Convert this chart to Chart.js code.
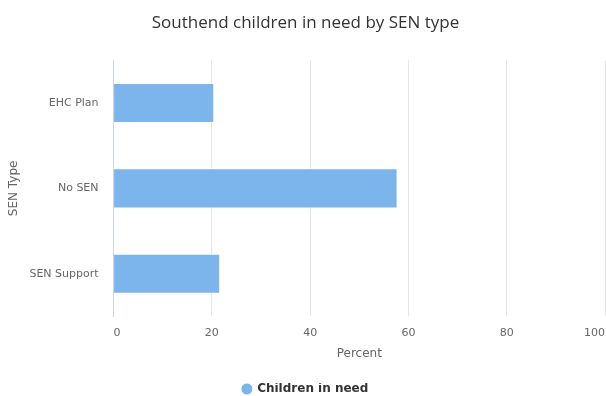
<!DOCTYPE html>
<html>
<head>
<meta charset="utf-8">
<script src="https://cdn.jsdelivr.net/npm/chart.js@4/dist/chart.umd.min.js"></script>
<style>
  html, body { margin: 0; padding: 0; background: #fff; }
  #wrap { width: 606px; height: 396px; }
</style>
</head>
<body>
<div id="wrap"><canvas id="senChart"></canvas></div>
<script>
var senTypes = ['EHC Plan', 'No SEN', 'SEN Support'];
var childrenInNeed = [20.5, 57.8, 21.7];
var percentTicks = [0, 20, 40, 60, 80, 100];

var barBlue = '#7cb5ec';

Chart.defaults.font.family = '"DejaVu Sans", Verdana, sans-serif';

var cfg = {
    type: 'bar',
    data: {
        labels: senTypes,
        datasets: [{
            label: 'Children in need',
            data: childrenInNeed,
            backgroundColor: barBlue,
            borderColor: '#ffffff',
            borderWidth: 1,
            categoryPercentage: 1,
            barPercentage: 0.47
        }]
    },
    options: {
        indexAxis: 'y',
        responsive: true,
        maintainAspectRatio: false,
        animation: false,
        layout: {
            padding: { left: 6, right: 1, top: 0, bottom: -9 }
        },
        plugins: {
            title: {
                display: true,
                text: 'Southend children in need by SEN type',
                color: '#333333',
                font: { family: '"Open Sans", sans-serif', size: 17, weight: 'normal' },
                padding: { top: 13, bottom: 27 }
            },
            legend: {
                position: 'bottom',
                labels: {
                    usePointStyle: true,
                    pointStyle: 'circle',
                    // circle radius is boxHeight * sqrt(2) / 2, so ~12px across
                    boxWidth: 8.5,
                    boxHeight: 8.5,
                    color: '#333333',
                    font: { size: 12, weight: 'bold' },
                    padding: 0
                }
            },
            tooltip: { enabled: false }
        },
        scales: {
            x: {
                min: 0,
                max: 100,
                afterBuildTicks: function(axis) {
                    axis.ticks = percentTicks.map(function(v) { return { value: v }; });
                },
                // let the 100 gridline reach the right edge
                afterFit: function(axis) {
                    axis.paddingRight = 0;
                },
                grid: { color: '#e6e6e6', tickLength: 0 },
                border: { display: false },
                ticks: { color: '#666666', font: { size: 11 }, padding: 10, align: 'inner', maxRotation: 0 },
                title: {
                    display: true,
                    text: 'Percent',
                    color: '#666666',
                    font: { size: 12 },
                    padding: { top: -3, bottom: 22 }
                }
            },
            y: {
                grid: { display: false, drawTicks: false },
                border: { display: true, color: '#ccd6eb' },
                ticks: { color: '#666666', font: { size: 11 }, padding: 15 },
                title: {
                    display: true,
                    text: 'SEN Type',
                    color: '#666666',
                    font: { size: 12 },
                    padding: { top: 1, bottom: -7 }
                }
            }
        }
    }
};

new Chart(document.getElementById('senChart').getContext('2d'), cfg);
</script>
</body>
</html>
